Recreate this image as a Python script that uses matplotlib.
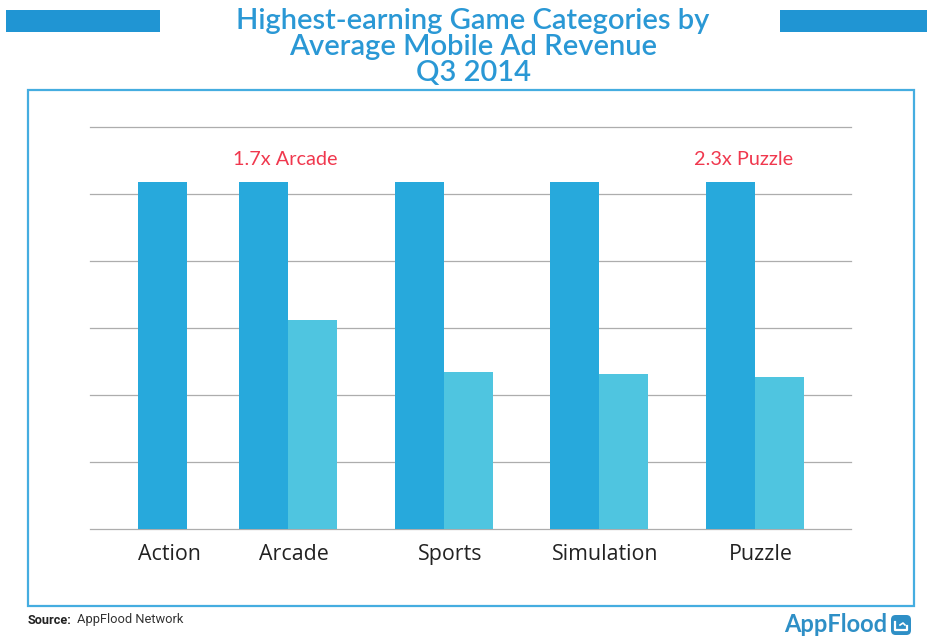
import matplotlib
matplotlib.use("Agg")
import matplotlib.pyplot as plt
from matplotlib.patches import Rectangle, FancyBboxPatch
from matplotlib.lines import Line2D

categories = ["Action", "Arcade", "Sports", "Simulation", "Puzzle"]
top_values = [5.18, 5.18, 5.18, 5.18, 5.18]
second_values = [3.12, 2.35, 2.32, 2.27]
grid_ticks = [0, 1, 2, 3, 4, 5, 6]
annotation_texts = ["1.7x Arcade", "2.3x Puzzle"]
title_lines = "Highest-earning Game Categories by\nAverage Mobile Ad Revenue\nQ3 2014"

W, H = 927, 638
BLUE = "#27A9DC"
LIGHT = "#4FC5E0"
TITLE = "#2A98D5"
BAND = "#2095D3"
FRAME = "#45ADE0"
RED = "#F0384E"
FONT = "Lato"

fig = plt.figure(figsize=(W / 100, H / 100), dpi=100, facecolor="white")

def fx(px):
    return px / W

def fy(py):
    return 1 - py / H

for x0, x1 in [(6, 160), (780, 927)]:
    fig.add_artist(Rectangle((fx(x0), fy(32)), fx(x1) - fx(x0), 22 / H,
                             transform=fig.transFigure, facecolor=BAND, edgecolor="none"))
fig.add_artist(Rectangle((fx(28), fy(605.5)), fx(913.5) - fx(28), (605.5 - 89.5) / H,
                         transform=fig.transFigure, facecolor="white", edgecolor=FRAME,
                         linewidth=1.6, zorder=-1))

ax = fig.add_axes([fx(90), fy(529), fx(851) - fx(90), (529 - 127) / H])
ax.patch.set_alpha(0)
ax.set_xlim((90 - 288) / 155.5 + 1, (851 - 288) / 155.5 + 1)
ax.set_ylim(0, 6)
for s in ax.spines.values():
    s.set_visible(False)
ax.set_yticks(grid_ticks)
ax.set_yticklabels([])
ax.tick_params(axis="both", length=0)
ax.grid(axis="y", color="#ADADAD", linewidth=0.9, zorder=0, clip_on=False)
ax.set_axisbelow(True)

bar_w = 49 / 155.5
centers = [0.193, 1 - bar_w / 2, 2 - bar_w / 2, 3 - bar_w / 2, 4 - bar_w / 2]
label_x = [0.235, 1.04, 2.04, 3.04, 4.04]
annotation_x = [0.98, 3.93]
ax.bar(centers, top_values, width=bar_w, color=BLUE, zorder=3)
ax.bar([c + bar_w for c in centers[1:]], second_values, width=bar_w, color=LIGHT, zorder=3)

ax.set_xticks(label_x)
ax.set_xticklabels(categories, fontsize=15.4, color="#222222", family="Open Sans")
ax.tick_params(axis="x", pad=11)

for x, txt in zip(annotation_x, annotation_texts):
    ax.text(x, 5.51, txt, ha="center", va="center", color=RED, fontsize=14.3, family=FONT)

fig.text(fx(473), fy(47), title_lines, ha="center", va="center", color=TITLE,
         fontsize=21, family=FONT, fontweight="semibold", linespacing=1.0)

fig.text(fx(28), fy(620), "Source:", fontsize=9.2, fontweight="bold", family="Roboto",
         color="#222222", va="center", ha="left")
fig.text(fx(77), fy(620), "AppFlood Network", fontsize=9.3, family="Roboto",
         color="#333333", va="center", ha="left")

LOGO = "#2E8FC6"
fig.text(fx(887), fy(625), "AppFlood", fontsize=17, fontweight="bold", family="Lato",
         color=LOGO, va="center", ha="right")
fig.add_artist(FancyBboxPatch((fx(891), fy(635)), 20 / W, 20 / H, transform=fig.transFigure,
                              boxstyle="round,pad=0,rounding_size=0.005", facecolor=LOGO,
                              edgecolor="none", mutation_aspect=W / H))
fig.add_artist(Line2D([fx(895), fx(895), fx(907), fx(907)], [fy(622), fy(630), fy(630), fy(626)],
                      transform=fig.transFigure, color="white", linewidth=1.6))
fig.add_artist(Line2D([fx(900), fx(903), fx(905)], [fy(625), fy(623), fy(625)],
                      transform=fig.transFigure, color="white", linewidth=1.2))

fig.savefig("out.png", dpi=100)
